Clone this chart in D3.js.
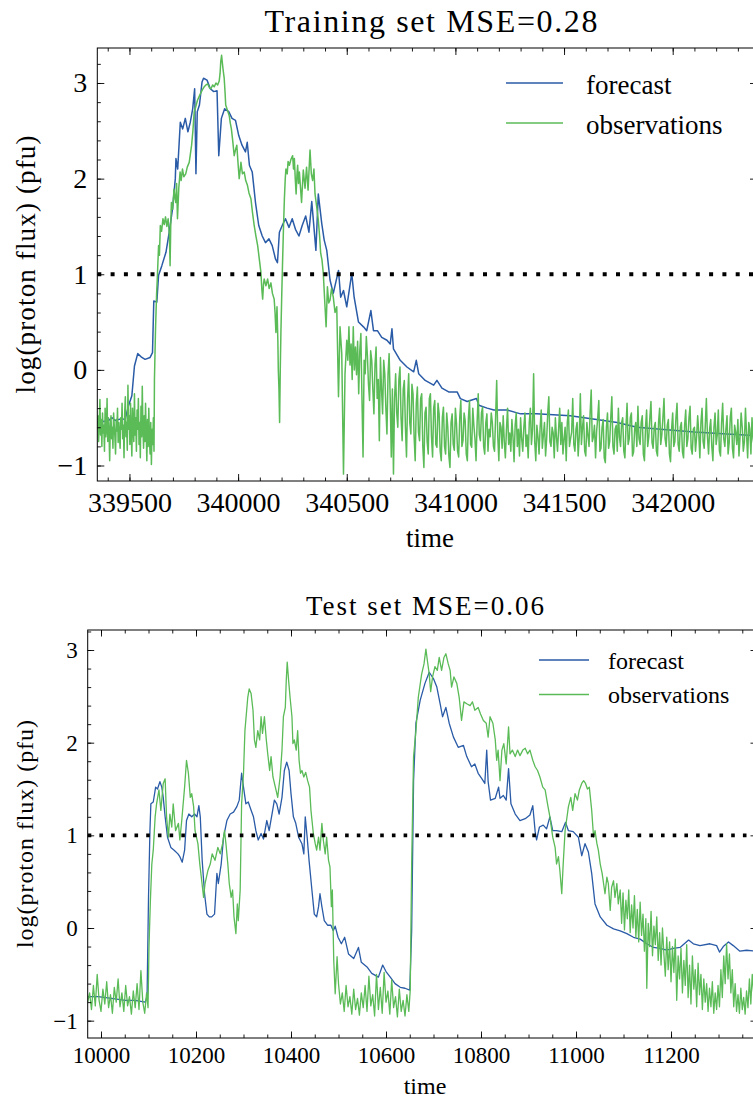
<!DOCTYPE html>
<html>
<head>
<meta charset="utf-8">
<script src="https://cdn.jsdelivr.net/npm/d3@7"></script>
<style>
  body { margin: 0; background: #fff; }
  svg { display: block; }
</style>
</head>
<body>
<div id="chart"></div>
<script>
// ---- data: [time, log flux] ----
const trainForecast = [
  [339352,-0.55],[339403,-0.53],[339420,-0.50],[339434,-0.53],[339465,-0.51],[339480,-0.52],[339495,-0.38],
  [339511,-0.27],[339523,0.04],[339538,0.17],[339557,0.13],[339572,0.11],[339595,0.13],[339606,0.18],
  [339612,0.72],[339626,0.71],[339634,0.99],[339649,1.09],[339668,1.23],[339683,1.44],[339698,1.68],
  [339711,2.0],[339714,2.21],[339722,2.1],[339734,2.59],[339745,2.52],[339757,2.63],[339769,2.49],
  [339780,2.59],[339791,2.73],[339800,2.94],[339806,2.05],[339812,2.7],[339822,2.77],[339834,3.01],
  [339841,3.05],[339857,3.03],[339872,2.94],[339888,2.91],[339903,2.92],[339911,2.24],[339923,2.63],
  [339938,2.73],[339957,2.7],[339972,2.63],[339988,2.61],[340003,2.45],[340018,2.35],[340034,2.28],
  [340042,2.38],[340052,2.14],[340065,2.07],[340080,1.75],[340095,1.51],[340111,1.40],[340126,1.33],
  [340142,1.37],[340157,1.30],[340172,1.16],[340181,1.12],[340190,1.44],[340203,1.51],[340218,1.58],
  [340234,1.49],[340249,1.58],[340264,1.47],[340280,1.40],[340295,1.51],[340311,1.61],[340326,1.44],
  [340339,1.76],[340358,1.25],[340369,1.84],[340385,1.53],[340396,1.36],[340408,1.25],[340423,0.94],
  [340438,0.80],[340462,1.04],[340472,0.76],[340485,0.83],[340500,0.66],[340523,1.01],[340534,0.76],
  [340554,0.50],[340577,0.45],[340592,0.41],[340611,0.62],[340623,0.41],[340641,0.41],[340661,0.34],
  [340685,0.31],[340700,0.27],[340708,0.43],[340715,0.22],[340746,0.10],[340777,0.03],[340808,-0.02],
  [340820,0.10],[340831,-0.04],[340861,-0.11],[340900,-0.16],[340915,-0.11],[340938,-0.19],[340969,-0.23],
  [341008,-0.23],[341023,-0.30],[341054,-0.33],[341097,-0.30],[341108,-0.37],[341146,-0.40],[341177,-0.42],
  [341238,-0.42],[341300,-0.46],[341373,-0.46],[341528,-0.48],[341682,-0.53],[341744,-0.55],[341836,-0.60],
  [341944,-0.62],[342100,-0.65],[342250,-0.67],[342400,-0.69]
];

// observations, quiet start: one value every 3 time units from 339352
const trainObsEarlyStart = 339352, trainObsEarlyStep = 3;
const trainObsEarly = [
  -0.62,-0.48,-0.75,-0.55,-0.31,-0.68,-0.52,-0.80,-0.45,-0.66,
  -0.58,-0.85,-0.40,-0.70,-0.62,-0.30,-0.75,-0.50,-0.66,-0.95,
  -0.55,-0.48,-0.72,-0.60,-0.82,-0.45,-0.58,-0.70,-0.88,-0.52,
  -0.64,-0.40,-0.76,-0.55,-0.68,-0.82,-0.50,-0.62,-0.35,-0.72,
  -0.58,-0.92,-0.45,-0.28,-0.70,-0.55,-0.84,-0.16,-0.62,-0.48,
  -0.78,-0.35,-0.66,-0.90,-0.40,-0.58,-0.75,-0.25,-0.68,-0.50,
  -0.85,-0.42,-0.62,-0.30,-0.78,-0.55,-0.92,-0.38,-0.70,-0.17,
  -0.60,-0.82,-0.48,-0.75,-0.35,-0.66,-0.95,-0.52,-0.80,-0.40,
  -0.72,-0.88,-0.55,-0.99,-0.62,-0.78,-0.50,-0.85
];

// observations, event: [time, value]
const trainObsEvent = [
  [339615,-0.10],[339620,0.43],[339625,0.80],[339628,0.95],[339634,1.30],[339638,1.20],[339642,1.51],
  [339648,1.45],[339654,1.58],[339660,1.52],[339666,1.60],[339672,1.50],[339678,1.58],[339684,1.40],
  [339687,1.09],[339690,1.50],[339693,1.75],[339699,1.68],[339705,1.89],[339709,1.80],[339713,1.75],
  [339717,1.95],[339721,1.58],[339727,1.90],[339733,2.07],[339738,1.98],[339744,2.10],[339750,2.02],
  [339759,2.05],[339766,2.12],[339775,2.17],[339780,2.25],[339786,2.35],[339792,2.50],[339798,2.70],
  [339805,2.75],[339813,2.82],[339821,2.86],[339829,2.90],[339836,2.93],[339844,2.96],[339852,2.98],
  [339860,2.99],[339868,2.95],[339875,2.94],[339883,2.98],[339890,2.96],[339898,3.00],[339906,2.98],
  [339913,3.02],[339917,3.10],[339920,3.22],[339924,3.29],[339928,3.20],[339932,3.12],[339936,3.05],
  [339940,2.90],[339943,2.77],[339950,2.72],[339959,2.66],[339964,2.58],[339969,2.52],[339975,2.40],
  [339982,2.24],[339988,2.30],[339994,2.35],[340000,2.15],[340005,2.00],[340010,2.10],[340013,2.17],
  [340020,2.05],[340028,2.07],[340035,1.98],[340043,1.93],[340050,1.85],[340059,1.79],[340066,1.65],
  [340074,1.51],[340082,1.40],[340090,1.30],[340098,1.15],[340105,1.02],[340109,0.85],[340113,0.74],
  [340117,0.90],[340120,0.95],[340128,0.88],[340136,0.95],[340143,0.85],[340151,0.91],[340158,0.80],
  [340166,0.74],[340170,0.60],[340174,0.39],[340177,0.55],[340179,0.66],[340183,0.30],[340185,0.00],
  [340188,-0.20],[340191,-0.55],[340194,0.00],[340197,0.39],[340201,0.80],[340205,1.16],[340209,1.50],
  [340213,1.79],[340217,2.00],[340220,2.10],[340226,2.05],[340230,2.18],[340236,2.14],[340243,2.20],
  [340251,2.24],[340255,2.10],[340259,2.21],[340263,2.00],[340267,1.84],[340271,2.05],[340274,2.14],
  [340278,1.95],[340282,2.07],[340292,1.75],[340300,2.09],[340308,1.90],[340315,2.12],[340322,1.88],
  [340331,2.30],[340337,2.05],[340343,1.98],[340349,2.10],[340354,1.84],[340362,1.70],[340369,1.57],
  [340375,1.40],[340380,1.22],[340386,1.15],[340392,1.01],[340400,0.66],[340405,0.45],[340411,0.87],
  [340417,0.70],[340423,0.73],[340430,0.85],[340438,0.76],[340446,0.60],[340454,0.66],[340462,-0.28],
  [340469,0.45],[340477,0.17],[340485,-1.09],[340492,-0.04]
];

// observations, noisy decay: one value every 5 time units from 340500
const trainObsTailStart = 340500, trainObsTailStep = 5;
const trainObsTail = [
  0.31,0.10,0.45,0.05,0.27,-0.10,0.45,0.00,0.24,-0.05,
  0.30,-0.25,0.20,0.38,-0.30,-0.91,0.10,-0.04,0.35,0.15,
  -0.15,-0.32,0.20,0.10,-0.20,-0.46,0.05,0.24,-0.30,-0.10,
  -0.74,0.13,-0.20,-0.46,0.10,-0.04,-0.40,-0.67,-0.05,0.17,
  -0.30,-0.91,-0.20,-1.09,-0.30,-0.04,-0.45,-0.60,-0.10,0.03,
  -0.50,-0.74,-0.20,-0.11,-0.60,-0.91,-0.30,-0.04,-0.55,-0.67,
  -0.15,-0.25,-0.70,-0.95,-0.35,-0.18,-0.65,-0.74,-0.30,-0.25,
  -0.80,-1.02,-0.45,-0.39,-0.75,-0.88,-0.30,-0.25,-0.70,-0.91,
  -0.40,-0.32,-0.78,-0.81,-0.35,-0.46,-0.85,-0.95,-0.50,-0.39,
  -0.80,-0.88,-0.45,-0.60,-0.90,-1.02,-0.55,-0.46,-0.78,-0.84,
  -0.40,-0.56,-0.85,-0.91,-0.50,-0.32,-0.80,-0.74,-0.45,-0.53,
  -0.88,-0.95,-0.50,-0.32,-0.78,-0.81,-0.40,-0.58,-0.72,-0.95,
  -0.55,-0.25,-0.68,-0.74,-0.45,-0.39,-0.80,-0.88,-0.55,-0.46,
  -0.85,-0.62,-0.70,-0.45,-0.55,-0.80,-0.85,-0.50,-0.11,-0.70,
  -0.95,-0.55,-0.60,-0.82,-0.48,-0.75,-0.92,-0.62,-0.40,-0.78,
  -0.66,-0.85,-0.52,-0.70,-0.96,-0.58,-0.45,-0.80,-0.62,-0.90,
  -0.50,-0.72,-0.85,-0.60,-0.45,-0.80,-0.68,-0.92,-0.55,-0.40,
  -0.78,-0.62,-0.04,-0.75,-0.95,-0.58,-0.70,-0.88,-0.60,-0.42,
  -0.82,-0.68,-0.55,-0.90,-0.72,-0.45,-0.28,-0.75,-0.80,-0.60,
  -0.66,-0.92,-0.50,-0.70,-0.85,-0.62,-0.40,-0.78,-0.55,-0.88,
  -0.72,-0.60,-0.95,-0.55,-0.42,-0.80,-0.72,-0.65,-0.30,-0.78,
  -0.85,-0.62,-0.55,-0.90,-0.70,-0.25,-0.78,-0.60,-0.48,-0.85,
  -0.90,-0.55,-0.68,-0.80,-0.45,-0.21,-0.75,-0.70,-0.58,-0.92,
  -0.64,-0.50,-0.32,-0.85,-0.82,-0.60,-0.52,-0.92,-0.97,-0.60,
  -0.45,-0.82,-0.75,-0.50,-0.28,-0.80,-0.88,-0.62,-0.58,-0.85,
  -0.40,-0.70,-0.80,-0.55,-0.50,-0.85,-0.92,-0.60,-0.35,-0.78,
  -0.72,-0.50,-0.45,-0.90,-0.86,-0.62,-0.55,-0.80,-0.38,-0.72,
  -0.78,-0.55,-0.48,-0.88,-0.95,-0.60,-0.42,-0.80,-0.70,-0.50,
  -0.33,-0.76,-0.82,-0.60,-0.55,-0.85,-0.90,-0.55,-0.40,-0.78,
  -0.68,-0.50,-0.30,-0.72,-0.80,-0.58,-0.52,-0.88,-0.96,-0.62,
  -0.45,-0.80,-0.75,-0.50,-0.35,-0.78,-0.85,-0.60,-0.55,-0.86,
  -0.92,-0.58,-0.42,-0.80,-0.72,-0.50,-0.38,-0.82,-0.88,-0.62,
  -0.60,-0.85,-0.70,-0.48,-0.66,-0.92,-0.55,-0.40,-0.75,-0.82,
  -0.58,-0.30,-0.70,-0.88,-0.62,-0.52,-0.80,-0.95,-0.60,-0.45,
  -0.78,-0.68,-0.42,-0.85,-0.90,-0.55,-0.35,-0.72,-0.80,-0.62,
  -0.48,-0.88,-0.76,-0.50,-0.40,-0.82,-0.92,-0.58,-0.65,-0.78,
  -0.52,-0.90,-0.70,-0.45,-0.60,-0.85,-0.75,-0.40,-0.68,-0.92,
  -0.55,-0.62,-0.88,-0.50,-0.72,-0.80,-0.45,-0.66,-0.90,-0.58,-0.70
];

const testForecast = [
  [9972,-0.74],[9994,-0.74],[10022,-0.76],[10051,-0.78],[10072,-0.78],[10093,-0.80],[10097,-0.74],
  [10100,0.33],[10103,1.05],[10105,1.34],[10110,1.36],[10115,1.52],[10119,1.50],[10124,1.58],[10128,1.52],
  [10131,1.41],[10135,1.20],[10140,0.98],[10147,0.87],[10154,0.84],[10162,0.80],[10166,0.77],[10171,0.71],
  [10176,0.84],[10180,1.16],[10185,1.23],[10191,1.20],[10197,1.23],[10202,1.20],[10206,1.32],[10209,1.20],
  [10213,0.73],[10218,0.37],[10223,0.15],[10228,0.12],[10233,0.12],[10239,0.15],[10244,0.59],[10247,0.48],
  [10253,0.69],[10258,0.98],[10265,1.16],[10272,1.23],[10279,1.25],[10286,1.31],[10291,1.38],[10296,1.67],
  [10300,1.52],[10305,1.34],[10310,1.36],[10316,1.27],[10321,1.20],[10326,1.05],[10331,0.95],[10337,1.02],
  [10342,0.96],[10349,1.16],[10354,1.05],[10360,1.23],[10365,1.38],[10370,1.34],[10375,1.23],[10381,1.41],
  [10386,1.70],[10391,1.79],[10396,1.70],[10400,1.45],[10405,1.20],[10410,1.13],[10416,0.98],[10423,0.91],
  [10427,0.80],[10430,1.20],[10434,0.98],[10438,0.73],[10444,0.41],[10449,0.15],[10454,0.12],[10458,0.23],
  [10461,0.37],[10465,0.23],[10470,0.08],[10477,0.03],[10484,0.03],[10489,-0.03],[10493,0.02],[10499,-0.10],
  [10506,-0.17],[10513,-0.10],[10521,-0.28],[10532,-0.33],[10542,-0.21],[10548,-0.37],[10560,-0.42],
  [10570,-0.49],[10584,-0.53],[10593,-0.40],[10600,-0.47],[10609,-0.53],[10619,-0.60],[10630,-0.64],
  [10640,-0.65],[10650,-0.67],[10654,-0.03],[10658,1.59],[10663,2.21],[10672,2.46],[10682,2.64],[10691,2.76],
  [10700,2.69],[10707,2.60],[10714,2.42],[10719,2.28],[10726,2.38],[10733,2.21],[10742,2.06],[10752,1.95],
  [10763,1.97],[10770,1.85],[10780,1.74],[10787,1.77],[10794,1.67],[10802,1.61],[10808,1.56],[10812,1.92],
  [10815,1.58],[10820,1.38],[10830,1.40],[10837,1.52],[10840,1.40],[10847,1.43],[10853,1.38],[10858,1.72],
  [10863,1.34],[10872,1.23],[10882,1.16],[10893,1.18],[10903,1.22],[10909,1.32],[10914,1.04],[10917,0.95],
  [10923,1.09],[10931,1.11],[10938,1.07],[10945,1.20],[10951,1.05],[10959,1.05],[10970,1.04],[10978,1.14],
  [10984,1.05],[10994,1.04],[11005,0.98],[11012,0.78],[11019,0.91],[11026,0.82],[11033,0.59],[11040,0.26],
  [11051,0.12],[11065,0.03],[11079,-0.01],[11093,-0.03],[11107,-0.06],[11121,-0.10],[11135,-0.12],
  [11149,-0.17],[11163,-0.21],[11177,-0.22],[11191,-0.24],[11205,-0.22],[11219,-0.21],[11237,-0.13],
  [11247,-0.17],[11261,-0.19],[11282,-0.17],[11296,-0.19],[11302,-0.26],[11310,-0.20],[11321,-0.15],
  [11331,-0.19],[11345,-0.25],[11359,-0.24],[11380,-0.25]
];

const testObs = [
  [9972,-0.80],[9976,-0.70],[9980,-0.88],[9984,-0.62],[9988,-0.84],[9992,-0.50],[9996,-0.78],[10000,-0.90],
  [10004,-0.66],[10008,-0.82],[10012,-0.58],[10016,-0.86],[10020,-0.72],[10024,-0.92],[10028,-0.64],
  [10032,-0.80],[10036,-0.55],[10040,-0.85],[10044,-0.70],[10048,-0.90],[10052,-0.62],[10056,-0.84],
  [10060,-0.74],[10064,-0.93],[10068,-0.68],[10072,-0.86],[10076,-0.60],[10080,-0.88],[10084,-0.46],
  [10088,-0.80],[10092,-0.92],[10096,-0.70],[10099,-0.86],
  [10101,-0.21],[10104,0.30],[10107,0.69],[10110,0.84],[10114,1.20],[10117,1.34],[10122,1.49],[10126,1.27],
  [10131,1.56],[10135,1.61],[10138,1.20],[10142,0.98],[10145,1.23],[10149,1.09],[10152,1.34],[10157,1.05],
  [10163,1.13],[10166,0.95],[10170,1.16],[10176,1.52],[10180,1.81],[10184,1.67],[10188,1.41],[10191,1.45],
  [10195,1.31],[10198,1.05],[10204,0.91],[10208,0.69],[10212,0.51],[10216,0.33],[10219,0.48],[10225,0.62],
  [10230,0.69],[10234,0.80],[10240,0.73],[10246,0.87],[10251,0.80],[10256,0.91],[10260,1.05],[10263,0.91],
  [10267,0.69],[10270,0.48],[10274,0.33],[10277,0.41],[10280,0.12],[10284,-0.06],[10287,0.26],[10289,0.08],
  [10293,0.41],[10296,1.34],[10300,1.67],[10303,2.13],[10309,2.49],[10312,2.58],[10316,2.53],[10320,2.35],
  [10323,2.03],[10326,1.95],[10330,2.13],[10334,2.03],[10337,2.28],[10340,2.10],[10344,2.28],[10348,2.03],
  [10351,1.88],[10355,1.70],[10358,1.85],[10362,1.63],[10367,1.52],[10372,1.41],[10377,1.63],[10381,1.92],
  [10384,2.28],[10388,2.38],[10390,2.67],[10392,2.87],[10395,2.67],[10398,2.49],[10402,2.28],[10404,1.99],
  [10407,2.03],[10411,1.92],[10414,2.13],[10417,1.81],[10420,1.67],[10423,1.70],[10427,1.63],[10431,1.68],
  [10435,1.59],[10439,1.52],[10442,1.27],[10447,1.02],[10451,0.91],[10454,0.84],[10458,0.98],[10461,0.84],
  [10465,1.13],[10468,0.95],[10472,0.80],[10475,0.98],[10479,0.73],[10482,0.66],[10485,0.23],[10487,0.41],
  [10490,-0.35],[10493,-0.71],[10497,-0.31],[10500,-0.60],[10504,-0.82],
  [10508,-0.70],[10512,-0.90],[10516,-0.62],[10520,-0.85],[10524,-0.74],[10528,-0.93],[10532,-0.66],
  [10536,-0.88],[10540,-0.76],[10544,-0.94],[10548,-0.70],[10552,-0.86],[10556,-0.62],[10560,-0.90],
  [10564,-0.52],[10568,-0.84],[10572,-0.72],[10576,-0.95],[10580,-0.50],[10584,-0.88],[10588,-0.64],
  [10592,-0.92],[10596,-0.48],[10600,-0.80],[10604,-0.68],[10608,-0.93],[10612,-0.56],[10616,-0.86],
  [10620,-0.74],[10624,-0.96],[10628,-0.66],[10632,-0.90],[10636,-0.78],[10640,-0.95],[10644,-0.72],
  [10648,-0.90],[10651,-0.67],
  [10654,0.69],[10658,1.85],[10663,2.13],[10668,2.49],[10675,2.74],[10680,2.85],[10684,3.01],[10687,2.89],
  [10691,2.74],[10694,2.55],[10698,2.71],[10703,2.82],[10708,2.78],[10712,2.92],[10717,2.78],[10722,2.92],
  [10726,2.96],[10731,2.85],[10735,2.78],[10738,2.60],[10743,2.71],[10749,2.64],[10754,2.49],[10759,2.24],
  [10764,2.44],[10770,2.42],[10777,2.40],[10782,2.44],[10787,2.35],[10794,2.38],[10799,2.31],[10805,2.24],
  [10811,2.21],[10815,2.06],[10819,2.28],[10825,2.21],[10830,2.03],[10833,1.81],[10836,1.92],[10840,1.59],
  [10844,1.92],[10848,1.99],[10853,1.77],[10858,2.17],[10861,1.88],[10866,1.92],[10872,1.85],[10877,1.92],
  [10882,1.86],[10888,1.92],[10893,1.94],[10898,1.88],[10903,1.92],[10909,1.81],[10914,1.74],[10919,1.70],
  [10924,1.63],[10930,1.52],[10935,1.49],[10940,1.34],[10945,1.20],[10951,0.98],[10956,0.87],[10959,0.69],
  [10963,0.77],[10966,0.62],[10970,0.37],[10973,0.69],[10977,1.05],[10980,1.16],[10984,1.31],[10989,1.41],
  [10993,1.27],[10998,1.45],[11003,1.38],[11007,1.49],[11012,1.56],[11016,1.59],[11020,1.56],[11024,1.50],
  [11028,1.52],[11033,1.27],[11037,0.98],[11040,1.05],[11044,0.91],[11047,0.84],[11051,0.69],[11055,0.59],
  [11058,0.48],[11061,0.37],[11065,0.55],[11068,0.48],[11072,0.19],[11075,0.44],[11079,0.51],[11082,0.33],
  [11086,0.48],[11089,0.26],[11093,0.41],
  [11096,0.05],[11099,0.38],[11102,-0.02],[11105,0.30],[11108,0.10],[11111,0.41],[11114,-0.05],[11117,0.25],
  [11120,0.00],[11123,0.35],[11126,-0.10],[11129,0.20],[11132,-0.15],[11135,0.28],[11138,-0.08],[11141,0.15],
  [11144,-0.25],[11147,0.10],[11149,-0.65],[11152,0.05],[11155,-0.20],[11158,0.18],[11161,-0.30],[11164,0.02],
  [11167,-0.18],[11170,0.12],[11173,-0.35],[11176,-0.05],[11179,-0.40],[11182,0.00],[11185,-0.28],[11188,-0.52],
  [11191,-0.10],[11194,-0.45],[11197,-0.15],[11200,-0.58],[11203,-0.20],[11206,-0.48],[11209,-0.12],[11212,-0.78],
  [11215,-0.30],[11218,-0.55],[11221,-0.22],[11224,-0.70],[11227,-0.35],[11230,-0.62],[11233,-0.18],[11236,-0.75],
  [11239,-0.40],[11242,-0.82],[11245,-0.30],[11248,-0.66],[11251,-0.45],[11254,-0.85],[11257,-0.38],[11260,-0.72],
  [11263,-0.50],[11266,-0.88],[11269,-0.55],[11272,-0.80],[11275,-0.60],[11278,-0.90],[11281,-0.65],[11284,-0.85],
  [11287,-0.58],[11290,-0.92],[11293,-0.70],[11296,-0.88],[11299,-0.62],[11302,-0.85],[11305,-0.45],[11308,-0.75],
  [11311,-0.30],[11314,-0.60],[11317,-0.17],[11320,-0.55],[11323,-0.28],[11326,-0.70],[11329,-0.45],[11332,-0.85],
  [11335,-0.60],[11338,-0.90],[11341,-0.72],[11344,-0.92],[11347,-0.65],[11350,-0.88],[11353,-0.75],[11356,-0.93],
  [11359,-0.68],[11362,-0.86],[11365,-0.55],[11368,-0.82],[11371,-0.50],[11374,-0.70],[11378,-0.62]
];

const trainXTicks = [339500, 340000, 340500, 341000, 341500, 342000];
const testXTicks = [10000, 10200, 10400, 10600, 10800, 11000, 11200];
const yTicks = [-1, 0, 1, 2, 3];
const seriesNames = ["forecast", "observations"];
const threshold = 1;

const colors = { forecast: "#2a5ba7", observations: "#5abb57" };
const FONT = "'Liberation Serif', 'DejaVu Serif', serif";

// regular-grid observations -> [time, value]
function gridPairs(start, step, values) {
  return values.map((v, i) => [start + i * step, v]);
}
const trainObs = [].concat(
  gridPairs(trainObsEarlyStart, trainObsEarlyStep, trainObsEarly),
  trainObsEvent,
  gridPairs(trainObsTailStart, trainObsTailStep, trainObsTail)
);

const W = 753, H = 1098;
const svg = d3.select("#chart").append("svg")
  .attr("width", W).attr("height", H)
  .style("background", "#fff");

const panels = [
  {
    id: "train", title: "Training set MSE=0.28", titleX: 431, titleY: 32, titleSize: 32, titleLen: 333,
    forecast: trainForecast, obs: trainObs,
    xDomain: [339352, 342388], yDomain: [-1.162, 3.366],
    left: 97.3, right: 757, top: 48, bottom: 481,
    xTicks: trainXTicks, xMinorStep: 100, yMinorStep: 0.2,
    tickFont: 28, xPad: 11, yPad: 10, major: 7, minor: 3.5,
    xLabelX: 430, xLabelY: 547, xLabelSize: 27,
    yLabelX: 35, yLabelSize: 27, yLabelLen: 258,
    lw: 1.5, dotW: 4, dash: "4,9.3",
    legX: 506, legLen: 57, legY: [83, 123], legTextX: 586, legSize: 27, legDy: 10.5
  },
  {
    id: "test", title: "Test set MSE=0.06", titleX: 425, titleY: 615, titleSize: 27, titleLen: 238,
    forecast: testForecast, obs: testObs,
    xDomain: [9972, 11381], yDomain: [-1.187, 3.216],
    left: 87.7, right: 757, top: 630, bottom: 1038,
    xTicks: testXTicks, xMinorStep: 50, yMinorStep: 0.2,
    tickFont: 23, xPad: 9, yPad: 10, major: 6.5, minor: 3.5,
    xLabelX: 425, xLabelY: 1094, xLabelSize: 24,
    yLabelX: 33, yLabelSize: 24, yLabelLen: 228,
    lw: 1.3, dotW: 3.6, dash: "3.6,8.1",
    legX: 539, legLen: 50, legY: [660, 694.5], legTextX: 608, legSize: 24, legDy: 8.5
  }
];

panels.forEach(drawPanel);

function drawPanel(p) {
  const x = d3.scaleLinear().domain(p.xDomain).range([p.left, p.right]);
  const y = d3.scaleLinear().domain(p.yDomain).range([p.bottom, p.top]);
  const g = svg.append("g").attr("class", "panel-" + p.id);

  // clip for the data
  g.append("clipPath").attr("id", "clip-" + p.id)
    .append("rect")
    .attr("x", p.left).attr("y", p.top)
    .attr("width", p.right - p.left).attr("height", p.bottom - p.top);

  const line = d3.line().x(d => x(d[0])).y(d => y(d[1]));
  const plot = g.append("g").attr("clip-path", `url(#clip-${p.id})`);

  plot.append("path").datum(p.forecast)
    .attr("d", line).attr("fill", "none")
    .attr("stroke", colors.forecast).attr("stroke-width", p.lw)
    .attr("stroke-linejoin", "round");
  plot.append("path").datum(p.obs)
    .attr("d", line).attr("fill", "none")
    .attr("stroke", colors.observations).attr("stroke-width", p.lw)
    .attr("stroke-linejoin", "round");

  // threshold dotted line
  plot.append("line")
    .attr("x1", x(p.xDomain[0])).attr("x2", x(p.xDomain[1]))
    .attr("y1", y(threshold)).attr("y2", y(threshold))
    .attr("stroke", "#000").attr("stroke-width", p.dotW)
    .attr("stroke-dasharray", p.dash);

  // minor tick values
  const xMinor = d3.range(Math.ceil(p.xDomain[0] / p.xMinorStep) * p.xMinorStep, p.xDomain[1], p.xMinorStep);
  const yMinor = d3.range(-1.2, 3.4, p.yMinorStep).filter(v => v >= p.yDomain[0] && v <= p.yDomain[1]);

  const axes = [
    { ax: d3.axisBottom(x).tickValues(p.xTicks).tickFormat(d3.format("d")), tr: `translate(0,${p.bottom})`, size: p.major, pad: p.xPad },
    { ax: d3.axisBottom(x).tickValues(xMinor).tickFormat(""), tr: `translate(0,${p.bottom})`, size: p.minor },
    { ax: d3.axisTop(x).tickValues(p.xTicks).tickFormat(""), tr: `translate(0,${p.top})`, size: p.major },
    { ax: d3.axisTop(x).tickValues(xMinor).tickFormat(""), tr: `translate(0,${p.top})`, size: p.minor },
    { ax: d3.axisLeft(y).tickValues(yTicks).tickFormat(d3.format("d")), tr: `translate(${p.left},0)`, size: p.major, pad: p.yPad },
    { ax: d3.axisLeft(y).tickValues(yMinor).tickFormat(""), tr: `translate(${p.left},0)`, size: p.minor },
    { ax: d3.axisRight(y).tickValues(yTicks).tickFormat(""), tr: `translate(${p.right},0)`, size: p.major },
    { ax: d3.axisRight(y).tickValues(yMinor).tickFormat(""), tr: `translate(${p.right},0)`, size: p.minor }
  ];
  axes.forEach(a => {
    a.ax.tickSize(-a.size).tickSizeOuter(0);
    if (a.pad !== undefined) a.ax.tickPadding(a.pad);
    const ag = g.append("g").attr("transform", a.tr).call(a.ax);
    ag.select(".domain").remove();
    ag.selectAll(".tick line").attr("stroke", "#000").attr("stroke-width", 0.9);
    ag.selectAll(".tick text")
      .attr("font-family", FONT).attr("font-size", p.tickFont).attr("fill", "#000");
  });

  // frame
  g.append("rect")
    .attr("x", p.left).attr("y", p.top)
    .attr("width", p.right - p.left).attr("height", p.bottom - p.top)
    .attr("fill", "none").attr("stroke", "#000").attr("stroke-width", 1);

  // title
  g.append("text")
    .attr("x", p.titleX).attr("y", p.titleY)
    .attr("text-anchor", "middle")
    .attr("font-family", FONT).attr("font-size", p.titleSize)
    .attr("textLength", p.titleLen)
    .text(p.title);

  // axis labels
  g.append("text")
    .attr("x", p.xLabelX).attr("y", p.xLabelY)
    .attr("text-anchor", "middle")
    .attr("font-family", FONT).attr("font-size", p.xLabelSize)
    .text("time");

  g.append("text")
    .attr("transform", `translate(${p.yLabelX},${(p.top + p.bottom) / 2}) rotate(-90)`)
    .attr("text-anchor", "middle")
    .attr("font-family", FONT).attr("font-size", p.yLabelSize)
    .attr("textLength", p.yLabelLen)
    .text("log(proton flux) (pfu)");

  // legend
  const leg = g.append("g");
  seriesNames.forEach((name, i) => {
    leg.append("line")
      .attr("x1", p.legX).attr("x2", p.legX + p.legLen)
      .attr("y1", p.legY[i]).attr("y2", p.legY[i])
      .attr("stroke", colors[name]).attr("stroke-width", p.lw);
    leg.append("text")
      .attr("x", p.legTextX).attr("y", p.legY[i] + p.legDy)
      .attr("font-family", FONT).attr("font-size", p.legSize)
      .text(name);
  });
}
</script>
</body>
</html>
